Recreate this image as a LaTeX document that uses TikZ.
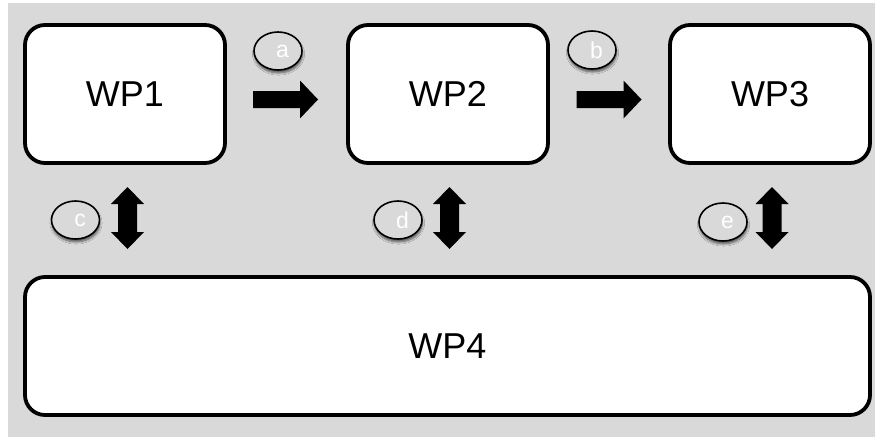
\documentclass[tikz,border=0pt]{standalone}
\usepackage{fontspec}
\setmainfont{Liberation Sans}
\usetikzlibrary{shapes.geometric,shadows.blur}
\definecolor{bggray}{HTML}{D9D9D9}
\definecolor{circgray}{HTML}{D9D9D9}
\tikzset{
  wpbox/.style={draw=black, line width=3.8pt, fill=white, rounded corners=20pt,
    inner sep=0pt, font=\fontsize{36}{40}\selectfont, text=black},
  tag/.style={ellipse, draw=black, line width=1.6pt, fill=circgray,
    minimum width=48pt, minimum height=38pt, inner sep=0pt,
    text=white, font=\fontsize{23}{25}\selectfont,
    blur shadow={shadow xshift=0.5pt, shadow yshift=-3pt, shadow blur steps=6, shadow opacity=60}},
  blockarrow/.style={fill=black},
}
\newcommand{\harrowat}[1]{%
  \fill[blockarrow] (#1) ++(-32.5,-8.5) -- ++(47,0) -- ++(0,-10.5) -- ++(18,19) -- ++(-18,19) -- ++(0,-10.5) -- ++(-47,0) -- cycle;}
\newcommand{\varrowat}[1]{%
  \fill[blockarrow] (#1) ++(0,-31) -- ++(16.5,17) -- ++(-7,0) -- ++(0,28) -- ++(7,0) -- ++(-16.5,17) -- ++(-16.5,-17) -- ++(7,0) -- ++(0,-28) -- ++(-7,0) -- cycle;}
\begin{document}
\begin{tikzpicture}[x=1pt,y=-1pt]
\useasboundingbox (0,0) rectangle (875,437);
\fill[bggray] (8,3) rectangle (875,437);
% boxes
\node[wpbox, minimum width=200pt, minimum height=138pt] (wp1) at (125,94) {WP1};
\node[wpbox, minimum width=200pt, minimum height=138pt] (wp2) at (448,94) {WP2};
\node[wpbox, minimum width=200pt, minimum height=138pt] (wp3) at (770,94) {WP3};
\node[wpbox, minimum width=845pt, minimum height=138pt] (wp4) at (447.5,346) {WP4};
% block arrows
\coordinate (ab) at (285.5,99.5);
\coordinate (bc) at (609,99.5);
\harrowat{ab}
\harrowat{bc}
\coordinate (cv) at (127.5,218);
\coordinate (dv) at (449.5,218);
\coordinate (ev) at (772,218);
\varrowat{cv}
\varrowat{dv}
\varrowat{ev}
% tags
\node[tag] (ta) at (278,51) {\hspace{9pt}\raisebox{-3pt}{a}};
\node[tag] (tb) at (592,50) {\hspace{9pt}\raisebox{-3pt}{b}};
\node[tag] (tc) at (75.5,220) {\hspace{9pt}\raisebox{-3pt}{c}};
\node[tag] (td) at (398,220) {\hspace{9pt}\raisebox{-3pt}{d}};
\node[tag] (te) at (723,222) {\hspace{9pt}\raisebox{-3pt}{e}};
\end{tikzpicture}
\end{document}
